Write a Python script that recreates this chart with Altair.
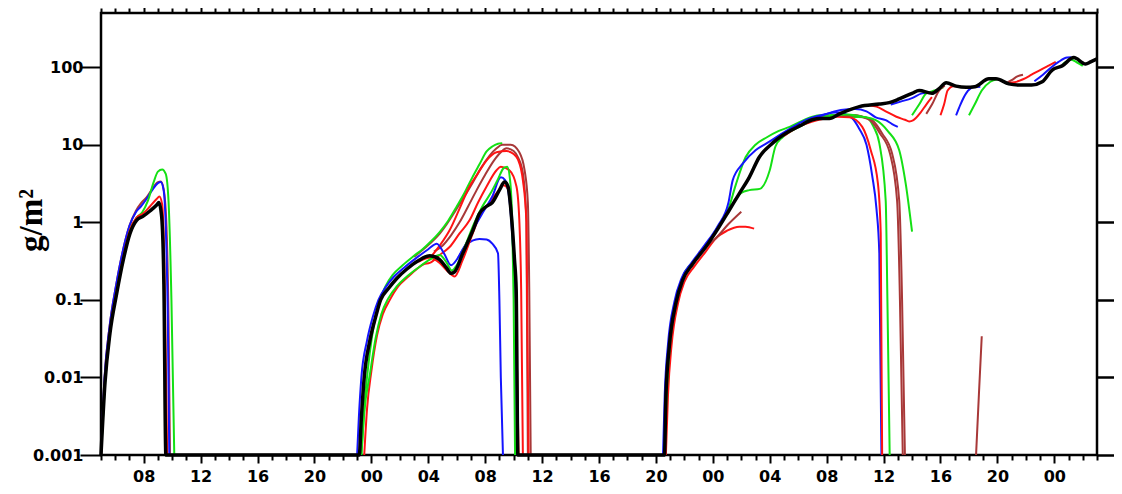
import altair as alt
import pandas as pd

# ---- colours ----
COLORS = {"blue": "#1414ff", "red": "#ff1414", "green": "#14e014", "brown": "#a83838", "black": "#000000"}

# ---- axis ticks ----
hour_ticks = list(range(5, 76))
decade_ticks = [0.001, 0.01, 0.1, 1, 10, 100]

# ---- black (observed) series: hours since day-1 00:00, g/m2 ----
black_h = [5.0, 5.28, 5.63, 6.1, 6.57, 7.04, 7.5, 7.97, 8.44, 8.91, 9.07, 9.26, 9.42, 9.56,
           23.15, 23.3, 23.5, 23.9, 24.3, 24.65, 25.2, 25.8, 26.5, 27.3, 28.1, 28.8, 29.27, 29.6, 29.85,
           30.43, 31.14, 31.6, 32.08, 32.5, 33.0, 33.36, 33.6, 33.83, 34.06, 34.18, 34.3,
           44.6, 44.7, 44.94, 45.4, 45.88, 46.58, 47.5, 48.45, 49.15, 49.86, 50.56, 51.26, 52.2, 53.4,
           54.1, 55.0, 55.5, 56.2, 56.9, 58.3, 59.7, 60.4, 61.1, 62.0, 62.5, 63.4, 63.9, 64.4, 65.1,
           65.8, 66.4, 67.4, 67.9, 68.8, 69.5, 70.4, 71.15, 71.85, 72.55, 73.37, 74.2, 74.55, 75.0]
black_v = [0.001, 0.0085, 0.037, 0.12, 0.33, 0.72, 1.06, 1.2, 1.4, 1.67, 1.8, 1.2, 0.16, 0.001,
           0.001, 0.003, 0.01, 0.03, 0.06, 0.1, 0.14, 0.19, 0.25, 0.32, 0.37, 0.33, 0.26, 0.22, 0.23,
           0.4, 0.79, 1.3, 1.6, 1.8, 2.6, 3.3, 2.9, 1.3, 0.33, 0.134, 0.001,
           0.001, 0.0056, 0.025, 0.09, 0.18, 0.29, 0.48, 0.88, 1.43, 2.35, 3.8, 6.9, 10.5, 15.0,
           17.5, 21, 21.8, 21.8, 25, 31, 33.5, 35, 39, 46, 50, 46, 53, 63, 57,
           55, 56, 71, 71, 61, 59, 59, 65, 92, 104, 133, 110, 117, 128]

# ---- forecast runs, day 1 ----
s1_red_h = [5.0, 5.28, 5.63, 6.1, 6.57, 7.04, 7.5, 7.97, 8.44, 8.91, 9.1, 9.3, 9.45, 9.65]
s1_red_v = [0.001, 0.009, 0.04, 0.13, 0.36, 0.8, 1.15, 1.3, 1.6, 2.0, 2.15, 1.7, 0.3, 0.001]
s1_brown_h = [5.0, 5.25, 5.6, 6.05, 6.5, 7.0, 7.45, 7.8, 8.2, 8.6, 9.0, 9.2, 9.4, 9.6, 9.75, 9.85]
s1_brown_v = [0.001, 0.01, 0.045, 0.15, 0.4, 0.9, 1.4, 1.75, 2.1, 2.7, 3.3, 3.35, 2.7, 0.9, 0.05, 0.001]
s1_blue_h = [5.0, 5.25, 5.6, 6.05, 6.5, 7.0, 7.45, 7.8, 8.2, 8.6, 9.0, 9.2, 9.4, 9.55, 9.7, 9.8]
s1_blue_v = [0.001, 0.01, 0.045, 0.15, 0.4, 0.9, 1.35, 1.6, 2.0, 2.6, 3.2, 3.3, 2.6, 0.9, 0.05, 0.001]
s1_green_h = [5.0, 5.3, 5.65, 6.1, 6.6, 7.05, 7.5, 7.9, 8.3, 8.7, 9.0, 9.3, 9.55, 9.75, 9.95, 10.15]
s1_green_v = [0.001, 0.009, 0.04, 0.13, 0.36, 0.8, 1.15, 1.35, 1.9, 3.3, 4.5, 4.8, 4.2, 1.8, 0.1, 0.001]

# ---- forecast runs, day 2 ----
s2_blueA_h = [23.0, 23.12, 23.3, 23.7, 24.1, 24.5, 25.0, 25.6, 26.3, 27.1, 28.0, 28.6, 29.1, 29.6, 30.1,
              30.7, 31.3, 31.9, 32.5, 33.1, 33.4, 33.7, 33.95, 34.15, 34.25]
s2_blueA_v = [0.001, 0.003, 0.01, 0.03, 0.06, 0.1, 0.145, 0.2, 0.26, 0.34, 0.45, 0.53, 0.4, 0.28, 0.35,
              0.55, 0.9, 1.4, 2.15, 3.8, 3.5, 2.0, 0.5, 0.1, 0.001]
s2_blueB_h = [30.1, 30.6, 31.1, 31.6, 32.1, 32.5, 32.9, 33.0, 33.1, 33.25]
s2_blueB_v = [0.35, 0.5, 0.58, 0.61, 0.6, 0.53, 0.4, 0.1, 0.01, 0.001]
s2_greenA_h = [23.3, 23.5, 23.8, 24.2, 24.6, 25.0, 25.5, 26.2, 27.0, 27.6, 28.2, 28.8, 29.4, 30.0, 30.6,
               31.1, 31.6, 32.1, 32.5, 32.9, 33.2]
s2_greenA_v = [0.001, 0.004, 0.015, 0.05, 0.1, 0.15, 0.21, 0.28, 0.37, 0.45, 0.57, 0.75, 1.05, 1.6, 2.5,
               3.8, 5.6, 8.2, 9.5, 10.3, 10.5]
s2_greenB_h = [23.3, 23.5, 23.9, 24.3, 24.7, 25.2, 25.8, 26.5, 27.3, 28.1, 28.8, 29.3, 29.65, 30.0, 30.6,
               31.2, 31.8, 32.4, 32.9, 33.3, 33.55, 33.75, 33.9, 34.0, 34.1]
s2_greenB_v = [0.001, 0.0035, 0.011, 0.032, 0.065, 0.105, 0.15, 0.2, 0.26, 0.33, 0.38, 0.3, 0.24, 0.28, 0.5,
               0.95, 1.6, 2.4, 3.6, 5.0, 5.2, 3.5, 1.0, 0.1, 0.001]
s2_brown1_h = [27.0, 27.6, 28.1, 28.7, 29.3, 29.9, 30.5, 31.1, 31.7, 32.3, 32.8, 33.2, 33.8, 34.4, 34.77,
               35.0, 35.1, 35.2]
s2_brown1_v = [0.36, 0.44, 0.53, 0.68, 0.95, 1.4, 2.1, 3.2, 5.0, 7.2, 9.0, 10.0, 10.0, 8.0, 4.7,
               1.8, 0.13, 0.001]
s2_brown2_h = [28.4, 29.0, 29.6, 30.2, 30.8, 31.4, 32.0, 32.6, 33.1, 33.5, 34.0, 34.3, 34.65, 34.9, 35.0]
s2_brown2_v = [0.42, 0.5, 0.68, 1.0, 1.6, 2.6, 4.1, 6.2, 8.0, 9.0, 8.3, 6.9, 4.3, 1.06, 0.001]
s2_red1_h = [23.5, 23.7, 24.0, 24.4, 24.8, 25.3, 25.9, 26.6, 27.2, 27.7, 28.1, 28.8, 29.5, 30.2, 30.9,
             31.5, 32.1, 32.8, 33.1, 33.7, 34.2, 34.4, 34.53, 34.65]
s2_red1_v = [0.001, 0.004, 0.012, 0.035, 0.065, 0.1, 0.15, 0.2, 0.25, 0.29, 0.3, 0.38, 0.48, 0.72, 1.06,
             1.8, 2.9, 4.7, 5.2, 4.7, 2.9, 1.06, 0.134, 0.001]
s2_red2_h = [28.2, 28.8, 29.5, 30.2, 30.9, 31.5, 32.1, 32.8, 33.5, 34.0, 34.3, 34.65, 34.9, 35.05]
s2_red2_v = [0.36, 0.5, 0.79, 1.5, 2.9, 4.3, 6.3, 8.0, 8.3, 7.6, 6.5, 3.5, 1.0, 0.001]
s2_red3_h = [27.3, 28.1, 28.8, 29.4, 29.85, 30.4, 31.1, 31.7, 32.3, 32.9, 33.3, 33.6, 33.9, 34.15, 34.35]
s2_red3_v = [0.31, 0.35, 0.3, 0.23, 0.2, 0.32, 0.7, 1.3, 1.8, 2.5, 3.0, 2.7, 1.0, 0.1, 0.001]

# ---- forecast runs, day 3-4 ----
s3_blueA_h = [44.5, 44.62, 44.85, 45.3, 45.8, 46.5, 47.4, 48.35, 49.1, 49.4, 50.1, 51.0, 51.8, 52.6, 53.4,
              54.2, 55.0, 55.8, 56.6, 57.3, 57.8, 58.3, 58.8, 59.2, 59.5, 59.7, 59.85]
s3_blueA_v = [0.001, 0.006, 0.027, 0.095, 0.19, 0.3, 0.5, 0.9, 1.8, 3.5, 5.7, 8.5, 10.5, 13, 16,
              19.5, 22.5, 24.5, 26, 25, 22, 16, 10, 4, 1.5, 0.4, 0.001]
s3_blueC_h = [55.0, 56.0, 57.0, 58.0, 58.8, 59.45, 60.15, 60.6, 61.0]
s3_blueC_v = [21, 25, 28, 29, 27, 22.6, 20.8, 18.5, 17]
s3_blueD_h = [60.5, 61.2, 62.0, 62.7, 63.3]
s3_blueD_v = [33, 36, 40, 46, 47]
s3_blueE_h = [65.1, 65.4, 65.8, 66.3, 66.8]
s3_blueE_v = [24, 33, 46, 55, 56]
s3_blueF_h = [70.6, 71.2, 71.8, 72.3, 72.9, 73.2]
s3_blueF_v = [66, 80, 100, 117, 133, 134]
s3_redA_h = [44.7, 44.85, 45.1, 45.55, 46.0, 46.7, 47.5, 48.2, 49.0, 49.86, 50.3, 50.9]
s3_redA_v = [0.001, 0.006, 0.026, 0.09, 0.17, 0.27, 0.42, 0.62, 0.78, 0.88, 0.88, 0.83]
s3_redC_h = [53.0, 54.0, 55.0, 56.0, 56.8, 57.6, 58.5, 59.1, 59.6, 59.8, 59.9]
s3_redC_v = [13, 17, 20, 22, 23, 22.6, 17, 8.5, 3.2, 0.72, 0.001]
s3_redD_h = [59.0, 59.5, 60.15, 60.9, 61.5, 61.8, 62.1, 62.6, 63.0, 63.4]
s3_redD_v = [32, 31, 27, 23, 21, 20, 20.8, 26, 33, 41]
s3_redE_h = [64.0, 64.25, 64.5, 64.9, 65.4]
s3_redE_v = [24, 33, 50, 57, 57]
s3_redF_h = [68.6, 69.2, 69.8, 70.4, 71.0, 71.6, 72.1]
s3_redF_v = [62, 64, 70, 80, 92, 105, 117]
s3_greenA_h = [44.6, 44.75, 45.0, 45.45, 45.9, 46.6, 47.5, 48.4, 49.1, 49.6, 50.3, 51.0, 51.8, 52.6, 53.4,
               54.2, 55.0, 55.6, 56.2, 57.0]
s3_greenA_v = [0.001, 0.006, 0.028, 0.1, 0.2, 0.31, 0.5, 0.9, 1.5, 3.0, 6.9, 10, 12.5, 15, 17,
               20, 23, 24, 24, 24]
s3_greenB_h = [49.5, 50.0, 50.56, 51.3, 52.0, 52.4, 52.9, 53.5, 54.2, 55.0, 55.8, 56.8, 57.8, 58.75, 59.3,
               59.7, 60.15, 60.27, 60.43]
s3_greenB_v = [1.9, 2.4, 2.6, 2.7, 4.7, 9.5, 12.5, 15, 17.5, 20.5, 23, 24, 23, 22.6, 17,
               10.5, 1.9, 0.1, 0.001]
s3_greenE_h = [54.5, 55.5, 56.5, 57.5, 58.5, 59.45, 60.3, 61.1, 61.55, 62.0]
s3_greenE_v = [20, 22, 24, 24.5, 23, 20.8, 15, 8.5, 3.2, 0.76]
s3_greenS1_h = [62.0, 62.5, 63.0, 63.6, 64.2]
s3_greenS1_v = [24, 33, 46, 50, 55]
s3_greenS2_h = [66.0, 66.4, 66.9, 67.5, 68.0]
s3_greenS2_v = [24, 33, 50, 65, 70]
s3_greenL_h = [72.6, 73.2, 73.6, 74.0]
s3_greenL_v = [110, 125, 115, 104]
s3_brownA_h = [47.0, 47.6, 48.2, 49.1, 50.0]
s3_brownA_v = [0.4, 0.5, 0.62, 0.95, 1.37]
s3_brownB1_h = [54.0, 55.0, 56.0, 57.0, 58.0, 58.7, 59.2, 59.9, 60.6, 61.1, 61.3, 61.4, 61.5]
s3_brownB1_v = [17, 21, 23, 24, 24, 22.5, 20.8, 14, 7.7, 1.9, 0.1, 0.01, 0.001]
s3_brownB2_h = [54.0, 55.0, 56.0, 57.0, 58.0, 58.6, 59.05, 59.75, 60.45, 60.95, 61.15, 61.25, 61.35]
s3_brownB2_v = [17, 21, 23, 24, 24, 22.5, 20.8, 14, 7.7, 1.9, 0.1, 0.01, 0.001]
s3_brownS_h = [63.0, 63.4, 63.9, 64.3]
s3_brownS_v = [25, 33, 50, 58]
s3_brownL_h = [68.6, 69.0, 69.4, 69.8]
s3_brownL_v = [62, 68, 76, 80]
s3_brownSpike_h = [66.5, 66.7, 66.9]
s3_brownSpike_v = [0.001, 0.006, 0.034]

runs = [
    ("s1_brown", "brown", s1_brown_h, s1_brown_v), ("s1_blue", "blue", s1_blue_h, s1_blue_v),
    ("s1_green", "green", s1_green_h, s1_green_v), ("s1_red", "red", s1_red_h, s1_red_v),
    ("s2_brown1", "brown", s2_brown1_h, s2_brown1_v), ("s2_brown2", "brown", s2_brown2_h, s2_brown2_v),
    ("s2_greenA", "green", s2_greenA_h, s2_greenA_v), ("s2_red2", "red", s2_red2_h, s2_red2_v),
    ("s2_red1", "red", s2_red1_h, s2_red1_v), ("s2_blueB", "blue", s2_blueB_h, s2_blueB_v),
    ("s2_red3", "red", s2_red3_h, s2_red3_v), ("s2_blueA", "blue", s2_blueA_h, s2_blueA_v),
    ("s2_greenB", "green", s2_greenB_h, s2_greenB_v),
    ("s3_redA", "red", s3_redA_h, s3_redA_v), ("s3_brownA", "brown", s3_brownA_h, s3_brownA_v),
    ("s3_greenA", "green", s3_greenA_h, s3_greenA_v), ("s3_blueA", "blue", s3_blueA_h, s3_blueA_v),
    ("s3_greenB", "green", s3_greenB_h, s3_greenB_v), ("s3_redC", "red", s3_redC_h, s3_redC_v),
    ("s3_brownB1", "brown", s3_brownB1_h, s3_brownB1_v), ("s3_brownB2", "brown", s3_brownB2_h, s3_brownB2_v),
    ("s3_greenE", "green", s3_greenE_h, s3_greenE_v), ("s3_blueC", "blue", s3_blueC_h, s3_blueC_v),
    ("s3_redD", "red", s3_redD_h, s3_redD_v), ("s3_blueD", "blue", s3_blueD_h, s3_blueD_v),
    ("s3_greenS1", "green", s3_greenS1_h, s3_greenS1_v), ("s3_brownS", "brown", s3_brownS_h, s3_brownS_v),
    ("s3_redE", "red", s3_redE_h, s3_redE_v), ("s3_blueE", "blue", s3_blueE_h, s3_blueE_v),
    ("s3_greenS2", "green", s3_greenS2_h, s3_greenS2_v), ("s3_brownSpike", "brown", s3_brownSpike_h, s3_brownSpike_v),
    ("s3_brownL", "brown", s3_brownL_h, s3_brownL_v), ("s3_redF", "red", s3_redF_h, s3_redF_v),
    ("s3_blueF", "blue", s3_blueF_h, s3_blueF_v), ("s3_greenL", "green", s3_greenL_h, s3_greenL_v),
]

rows = []
for k, (name, col, hs, vs) in enumerate(runs):
    assert len(hs) == len(vs), name
    for h, v in zip(hs, vs):
        rows.append({"run": f"{k:02d}_{name}", "col": COLORS[col], "h": h, "v": v})
df_runs = pd.DataFrame(rows)
df_black = pd.DataFrame({"run": "obs", "h": black_h, "v": black_v})

xscale = alt.Scale(domain=[5, 75], nice=False, zero=False)
yscale = alt.Scale(type="log", domain=[0.001, 500], nice=False)

tick_cond = {"condition": {"test": "datum.value % 4 === 0", "value": 8}, "value": 5}
label_expr = ("datum.value % 4 === 0 ? (((datum.value % 24) < 10 ? '0' : '') + (datum.value % 24)) : ''")

x_bottom = alt.Axis(orient="bottom", values=hour_ticks, labelExpr=label_expr, tickSize=tick_cond,
                    tickWidth=2, tickColor="black", domain=False, grid=False, title=None,
                    labelFont="DejaVu Sans", labelFontWeight="bold", labelFontSize=16, labelColor="black",
                    labelPadding=5, labelFlush=False, labelOverlap=False)
y_left = alt.Axis(orient="left", values=decade_ticks, format="~g", tickSize=21, tickWidth=2,
                  tickColor="black", domain=False, grid=False, title="g/m²",
                  labelFont="DejaVu Sans", labelFontWeight="bold", labelFontSize=16, labelColor="black",
                  labelPadding=-3, labelOverlap=False,
                  titleFont="Liberation Serif", titleFontWeight="bold", titleFontSize=33, titleColor="black",
                  titleX=-60, titleY=207, titleAngle=270, titleAlign="center", titleBaseline="alphabetic")
x_top = alt.Axis(orient="top", values=hour_ticks, labels=False, tickSize=tick_cond, tickWidth=2,
                 tickColor="black", domain=False, grid=False, title=None)
y_right = alt.Axis(orient="right", values=decade_ticks, labels=False, tickSize=25, tickWidth=2.5,
                   tickColor="black", domain=False, grid=False, title=None)

colored = alt.Chart(df_runs).mark_line(strokeWidth=2, interpolate="monotone").encode(
    x=alt.X("h:Q", scale=xscale, axis=x_bottom),
    y=alt.Y("v:Q", scale=yscale, axis=y_left),
    color=alt.Color("col:N", scale=None, legend=None),
    detail="run:N",
)
black = alt.Chart(df_black).mark_line(strokeWidth=3.5, color="black", interpolate="monotone").encode(
    x=alt.X("h:Q", scale=xscale, axis=x_top),
    y=alt.Y("v:Q", scale=yscale, axis=y_right),
)

chart = alt.layer(colored, black).resolve_axis(x="independent", y="independent").properties(
    width=996, height=442,
    autosize=alt.AutoSizeParams(type="none"),
    padding={"left": 93, "top": 5, "right": 17, "bottom": 34},
).configure_view(stroke="black", strokeWidth=2.5)

chart.save("out.html", embed_options={"renderer": "svg", "actions": False})
